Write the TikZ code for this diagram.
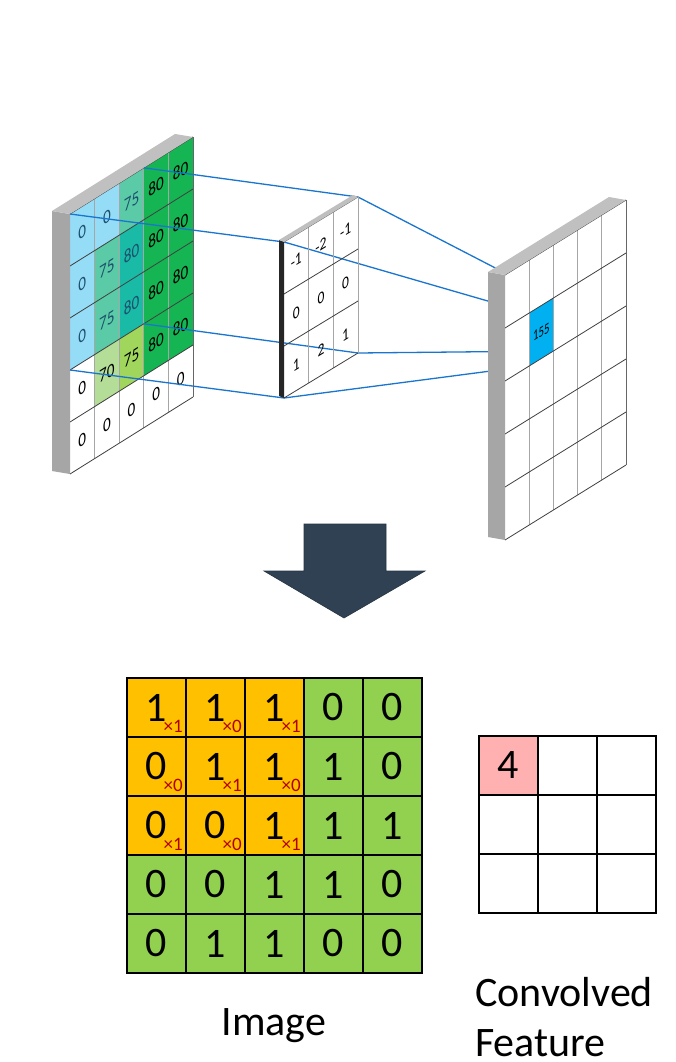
\documentclass[tikz,border=0pt]{standalone}
\usepackage{fontspec}
\setmainfont{Carlito}
\usetikzlibrary{calc}
\definecolor{lblue}{HTML}{95DCF7}
\definecolor{mint}{HTML}{5ACBA6}
\definecolor{tealc}{HTML}{19BBA6}
\definecolor{grn}{HTML}{14B552}
\definecolor{lgrn}{HTML}{B4DD97}
\definecolor{lime}{HTML}{A0D65C}
\definecolor{projblue}{HTML}{1A75CF}
\definecolor{barside}{HTML}{A6A6A6}
\definecolor{bartop}{HTML}{C0C0C0}
\definecolor{outblue}{HTML}{00B0F0}
\definecolor{arrowc}{HTML}{2F4152}
\definecolor{orng}{HTML}{FFC000}
\definecolor{bgrn}{HTML}{92D050}
\definecolor{pinkc}{HTML}{FFB0B0}
\definecolor{subred}{HTML}{B00000}
\definecolor{darktxt}{HTML}{1D4F6E}
\begin{document}
\begin{tikzpicture}[x=1pt,y=-1pt,
  hl/.style={draw=black!75, line width=0.8pt},
  vl/.style={draw=black!35, line width=0.8pt},
  edgeline/.style={draw=black!60, line width=0.8pt},
  proj/.style={draw=projblue, line width=1.3pt},
  ltxt/.style={inner sep=0pt, font=\fontsize{19}{19}\selectfont, yslant=0.626, xscale=0.8},
  ktxt/.style={inner sep=0pt, font=\fontsize{17}{17}\selectfont, yslant=0.608, xscale=0.8},
  rtxt/.style={inner sep=0pt, font=\fontsize{15}{15}\selectfont, yslant=0.62, xscale=0.72},
  bcell/.style={draw=black, line width=1.5pt, minimum width=59pt, minimum height=59pt, inner sep=0pt, font=\fontsize{42}{42}\selectfont},
  subtxt/.style={inner sep=0pt, text=subred, font=\fontsize{19}{19}\selectfont, anchor=south east},
  lbl/.style={inner sep=0pt, font=\fontsize{42}{52}\selectfont}
]
\useasboundingbox[fill=white] (0,0) rectangle (675,1062);

% ---------- left input panel ----------
\begin{scope}[shift={(70,214)}, cm={24.6,15.4,0,52,(0,0)}]
  \foreach \i/\j/\c in {0/0/lblue,1/0/lblue,2/0/mint,3/0/grn,4/0/grn,
     0/1/lblue,1/1/mint,2/1/tealc,3/1/grn,4/1/grn,
     0/2/lblue,1/2/mint,2/2/tealc,3/2/grn,4/2/grn,
     1/3/lgrn,2/3/lime,3/3/grn,4/3/grn}
    \fill[\c] (\i,\j) -- (\i+1,\j) -- (\i+1,\j+1) -- (\i,\j+1) -- cycle;
  \foreach \i in {1,...,4} \draw[vl] (\i,0) -- (\i,5);
  \draw[edgeline] (5,0) -- (5,5);
  \foreach \j in {0,...,5} \draw[hl] (0,\j) -- (5,\j);
  \foreach \i/\j/\t/\c in {0/0/0/darktxt,1/0/0/darktxt,2/0/75/darktxt,3/0/80/black,4/0/80/black,
     0/1/0/darktxt,1/1/75/darktxt,2/1/80/darktxt,3/1/80/black,4/1/80/black,
     0/2/0/darktxt,1/2/75/darktxt,2/2/80/darktxt,3/2/80/black,4/2/80/black,
     0/3/0/black,1/3/70/black,2/3/75/black,3/3/80/black,4/3/80/black,
     0/4/0/black,1/4/0/black,2/4/0/black,3/4/0/black,4/4/0/black}
    \node[ltxt, text=\c] (L\i\j) at (\i+0.5,\j+0.5) {\t};
  \coordinate (LA) at (0,0);
  \coordinate (LB) at (5,0);
  \coordinate (LC) at (0,5);
  \coordinate (L-TL) at (0,0);
  \coordinate (L-TR) at (3,0);
  \coordinate (L-BR) at (3,3);
  \coordinate (L-BL) at (0,3);
\end{scope}
\fill[barside] (LA) -- (LC) -- ($(LC)+(-18,-3)$) -- ($(LA)+(-18,-3)$) -- cycle;
\fill[bartop] (LA) -- (LB) -- ($(LB)+(-18,-3)$) -- ($(LA)+(-18,-3)$) -- cycle;

% ---------- kernel geometry ----------
\begin{scope}[shift={(284,242)}, cm={24.67,15.0,0,52,(0,0)}]
  \coordinate (KA) at (0,0);
  \coordinate (KB) at (3,0);
  \coordinate (KC) at (0,3);
  \coordinate (K-TL) at (0,0);
  \coordinate (K-TR) at (3,0);
  \coordinate (K-BR) at (3,3);
  \coordinate (K-BL) at (0,3);
\end{scope}
% ---------- output geometry ----------
\begin{scope}[shift={(505,275)}, cm={24.2,15.0,0,53,(0,0)}]
  \coordinate (C-TL) at (1,1);
  \coordinate (C-TR) at (2,1);
  \coordinate (C-BR) at (2,2);
  \coordinate (C-BL) at (1,2);
\end{scope}

% ---------- projection lines ----------
\draw[proj] (L-TL) -- (K-TL) -- (C-TL);
\draw[proj] (L-TR) -- (K-TR) -- (C-TR);
\draw[proj] (L-BR) -- (K-BR) -- (C-BR);
\draw[proj] (L-BL) -- (K-BL) -- (C-BL);

% ---------- kernel ----------
\begin{scope}[shift={(284,242)}, cm={24.67,15.0,0,52,(0,0)}]
  \foreach \i in {1,2,3} \draw[vl] (\i,0) -- (\i,3);
  \foreach \j in {1,2,3} \draw[hl] (0,\j) -- (3,\j);
  \draw[draw=black!60, line width=0.8pt] (0,0) -- (3,0);
  \foreach \i/\j/\t in {0/0/-1,1/0/-2,2/0/-1,0/1/0,1/1/0,2/1/0,0/2/1,1/2/2,2/2/1}
    \node[ktxt] (K\i\j) at (\i+0.5,\j+0.5) {\t};
\end{scope}
\fill[black!85] (KA) -- (KC) -- ($(KC)+(-5,-2)$) -- ($(KA)+(-5,-2)$) -- cycle;
\fill[black!25] (KA) -- (KB) -- ($(KB)+(-5,-2)$) -- ($(KA)+(-5,-2)$) -- cycle;

% ---------- right output panel ----------
\begin{scope}[shift={(505,275)}, cm={24.2,15.0,0,53,(0,0)}]
  \fill[white] (0,0) -- (5,0) -- (5,5) -- (0,5) -- cycle;
  \fill[outblue] (1,1) -- (2,1) -- (2,2) -- (1,2) -- cycle;
  \foreach \i in {1,...,4} \draw[vl] (\i,0) -- (\i,5);
  \draw[edgeline] (5,0) -- (5,5);
  \foreach \j in {0,...,5} \draw[hl] (0,\j) -- (5,\j);
  \node[rtxt] (R11) at (1.5,1.5) {155};
  \coordinate (RA) at (0,0);
  \coordinate (RB) at (5,0);
  \coordinate (RC) at (0,5);
\end{scope}
\fill[barside] (RA) -- (RC) -- ($(RC)+(-17,-3)$) -- ($(RA)+(-17,-3)$) -- cycle;
\fill[bartop] (RA) -- (RB) -- ($(RB)+(-17,-3)$) -- ($(RA)+(-17,-3)$) -- cycle;

% ---------- big arrow ----------
\fill[arrowc, draw=arrowc!80!black, line width=0.6pt]
  (304,524) -- (386,524) -- (386,571) -- (425,571) -- (344,618) -- (264,571) -- (304,571) -- cycle;

% ---------- image grid ----------
\foreach \i/\j/\v/\c in {0/0/1/orng,1/0/1/orng,2/0/1/orng,3/0/0/bgrn,4/0/0/bgrn,
   0/1/0/orng,1/1/1/orng,2/1/1/orng,3/1/1/bgrn,4/1/0/bgrn,
   0/2/0/orng,1/2/0/orng,2/2/1/orng,3/2/1/bgrn,4/2/1/bgrn,
   0/3/0/bgrn,1/3/0/bgrn,2/3/1/bgrn,3/3/1/bgrn,4/3/0/bgrn,
   0/4/0/bgrn,1/4/1/bgrn,2/4/1/bgrn,3/4/0/bgrn,4/4/0/bgrn}
  \node[bcell, fill=\c] (B\i\j) at (127+59*\i+29.5, 678+59*\j+29.5) {\v};
\foreach \i/\j/\s in {0/0/1,1/0/0,2/0/1,0/1/0,1/1/1,2/1/0,0/2/1,1/2/0,2/2/1}
  \node[subtxt] (S\i\j) at (127+59*\i+56, 678+59*\j+55) {×\s};

% ---------- convolved feature ----------
\foreach \i in {0,1,2}
  \foreach \j in {0,1,2}
    \node[bcell] (F\i\j) at (479+59*\i+29.5, 736+59*\j+29.5) {};
\node[bcell, fill=pinkc] (F00v) at (479+29.5, 736+29.5) {4};

% ---------- labels ----------
\node[lbl, anchor=base] (imglbl) at (274,1035) {Image};
\node[lbl, anchor=base west] (convlbl) at (475,1006) {Convolved};
\node[lbl, anchor=base west] (featlbl) at (475,1056) {Feature};
\end{tikzpicture}
\end{document}
